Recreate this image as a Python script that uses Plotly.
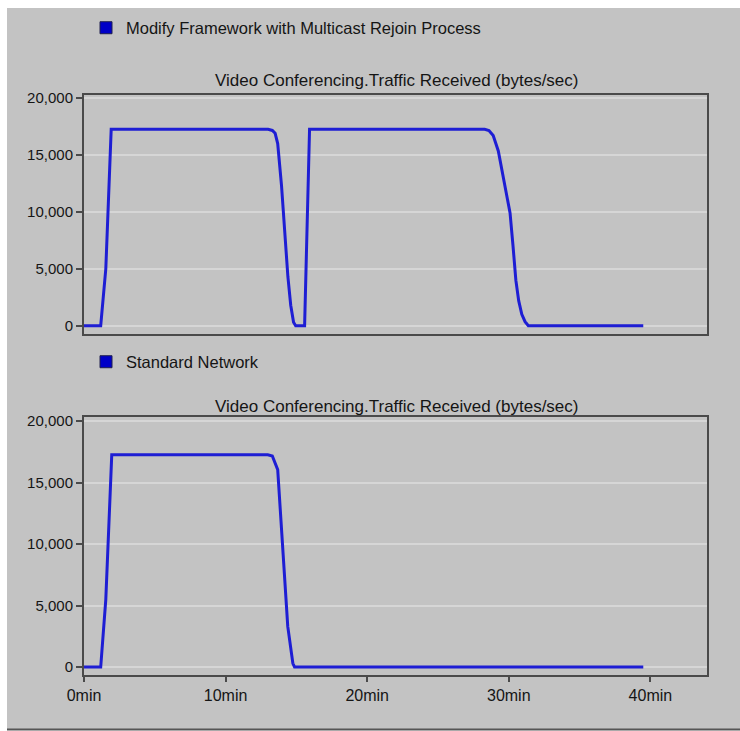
import plotly.graph_objects as go

# ---- data -------------------------------------------------------------
title_text = "Video Conferencing.Traffic Received (bytes/sec)"
series_names = ["Modify Framework with Multicast Rejoin Process", "Standard Network"]

# Modified framework: traffic drops, then the multicast rejoin restores it
rejoin_min = [0, 1.18, 1.54, 1.92, 13.0, 13.3, 13.5, 13.68, 13.95, 14.2, 14.4, 14.6, 14.8, 14.95,
              15.58, 15.93, 28.3, 28.6, 28.9, 29.26, 29.6, 30.09, 30.3, 30.5, 30.7, 30.92, 31.15,
              31.38, 39.5]
rejoin_bps = [0, 0, 5000, 17250, 17250, 17150, 16900, 16000, 12300, 8000, 4300, 1800, 300, 0,
              0, 17250, 17250, 17150, 16700, 15350, 13100, 9900, 7000, 4000, 2200, 1000, 350,
              0, 0]

# Standard network: traffic is lost and never recovers
standard_min = [0, 1.18, 1.54, 1.96, 12.98, 13.3, 13.68, 14.04, 14.39, 14.75, 14.87, 39.5]
standard_bps = [0, 0, 5500, 17250, 17250, 17150, 16050, 9500, 3300, 300, 0, 0]

x_tick_vals = [0, 10, 20, 30, 40]
x_tick_text = ["0min", "10min", "20min", "30min", "40min"]
y_tick_vals = [0, 5000, 10000, 15000, 20000]

# ---- styling ----------------------------------------------------------
W, H = 740, 731
FONT = "Liberation Sans, Arial, sans-serif"
LINE_BLUE = "#1e1ed4"
PANEL = "#c3c3c3"
PLOT_BG = "#efefef"
GRID = "#d6d6d6"
BORDER = "#4a4a4a"
TEXT = "#151515"


def px_x(p):
    return p / W


def px_y(p):
    return 1 - p / H


fig = go.Figure()

fig.add_trace(go.Scatter(x=rejoin_min, y=rejoin_bps, mode="lines",
                         line=dict(color=LINE_BLUE, width=3),
                         xaxis="x", yaxis="y", showlegend=False))
fig.add_trace(go.Scatter(x=standard_min, y=standard_bps, mode="lines",
                         line=dict(color=LINE_BLUE, width=3),
                         xaxis="x2", yaxis="y2", showlegend=False))

# legend entries (square swatches)
swatch = dict(symbol="square", size=12, color="#0000c8", line=dict(color="#202050", width=1))
fig.add_trace(go.Scatter(x=[None], y=[None], mode="markers", name=series_names[0],
                         marker=swatch, xaxis="x", yaxis="y", legend="legend"))
fig.add_trace(go.Scatter(x=[None], y=[None], mode="markers", name=series_names[1],
                         marker=swatch, xaxis="x2", yaxis="y2", legend="legend2"))

x_dom = [px_x(84), px_x(707)]
top_dom = [px_y(334), px_y(95)]
bot_dom = [px_y(675), px_y(417)]

common_x = dict(range=[0, 44], showgrid=False, zeroline=False, showline=True, mirror=True,
                linecolor=BORDER, linewidth=2, tickvals=x_tick_vals, ticktext=x_tick_text,
                tickfont=dict(family=FONT, size=16, color=TEXT))
common_y = dict(showgrid=True, gridcolor=GRID, gridwidth=1.5, zeroline=False, showline=True,
                mirror=True, linecolor=BORDER, linewidth=2, tickvals=y_tick_vals,
                tickformat=",d", ticks="outside", ticklen=6, tickwidth=1.5, tickcolor=BORDER,
                tickfont=dict(family=FONT, size=15, color=TEXT))

legend_common = dict(xanchor="left", yanchor="middle", bgcolor="rgba(0,0,0,0)", borderwidth=0,
                     font=dict(family=FONT, size=16.5, color=TEXT))

fig.update_layout(
    width=W, height=H,
    margin=dict(l=0, r=0, t=0, b=0, autoexpand=False),
    paper_bgcolor="white",
    plot_bgcolor=PLOT_BG,
    font=dict(family=FONT, size=15, color=TEXT),
    xaxis=dict(common_x, domain=x_dom, anchor="y", showticklabels=False, ticks=""),
    yaxis=dict(common_y, domain=top_dom, anchor="x", range=[-730, 20265]),
    xaxis2=dict(common_x, domain=x_dom, anchor="y2", ticks="outside", ticklen=5,
                tickwidth=1.5, tickcolor=BORDER),
    yaxis2=dict(common_y, domain=bot_dom, anchor="x2", range=[-650, 20325]),
    legend=dict(legend_common, x=px_x(86), y=px_y(28)),
    legend2=dict(legend_common, x=px_x(86), y=px_y(362)),
    shapes=[
        dict(type="rect", xref="paper", yref="paper", layer="below",
             x0=px_x(7), x1=1, y0=px_y(729), y1=px_y(8),
             fillcolor=PANEL, line=dict(width=0)),
        dict(type="line", xref="paper", yref="paper", layer="below",
             x0=px_x(7), x1=1, y0=px_y(729.5), y1=px_y(729.5),
             line=dict(color="#555555", width=2)),
    ],
    annotations=[
        dict(text=title_text, xref="paper", yref="paper", x=px_x(396), y=px_y(80),
             xanchor="center", yanchor="middle", showarrow=False,
             font=dict(family=FONT, size=17, color=TEXT)),
        dict(text=title_text, xref="paper", yref="paper", x=px_x(396), y=px_y(407),
             xanchor="center", yanchor="middle", showarrow=False,
             font=dict(family=FONT, size=17, color=TEXT)),
    ],
)

fig.write_html("out.html")
